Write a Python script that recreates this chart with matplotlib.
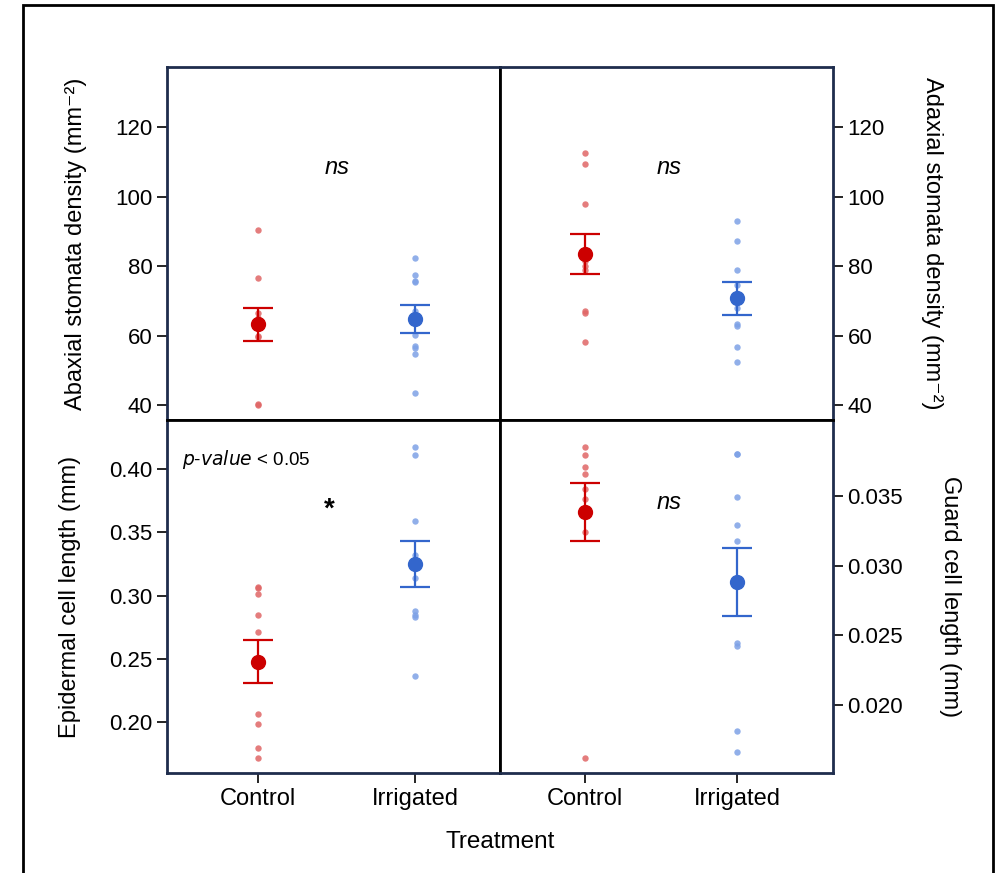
import matplotlib
matplotlib.use("Agg")
from matplotlib import pyplot as plt
from matplotlib.patches import Rectangle

plt.rcParams['font.family'] = ['Liberation Sans', 'DejaVu Sans']

groups = ["Control", "Irrigated"]

# abaxial stomata density (mm-2)
abaxialControl = [90.4, 76.5, 66.4, 65.0, 63.0, 60.0, 59.5, 40.2, 39.9]
abaxialIrrigated = [82.2, 77.4, 75.7, 75.4, 67.0, 65.0, 60.1, 57.1, 56.5, 54.7, 43.5]
abaxialMean = [63.2, 64.7]
abaxialSe = [4.75, 4.0]

# adaxial stomata density (mm-2)
adaxialControl = [112.6, 109.4, 97.8, 81.4, 80.0, 79.0, 67.1, 66.4, 58.2]
adaxialIrrigated = [93.0, 87.2, 78.8, 74.5, 67.8, 63.2, 62.7, 56.7, 52.3]
adaxialMean = [83.5, 70.7]
adaxialSe = [5.75, 4.65]

# epidermal cell length (mm)
epidermalControl = [0.3068, 0.3062, 0.3012, 0.2846, 0.2709, 0.2063, 0.1982, 0.1792, 0.1713]
epidermalIrrigated = [0.4174, 0.4108, 0.3591, 0.3320, 0.3141, 0.2878, 0.2846, 0.2830, 0.2364]
epidermalMean = [0.2477, 0.3249]
epidermalSe = [0.0170, 0.0182]

# guard cell length (mm)
guardControl = [0.03852, 0.03792, 0.03706, 0.03656, 0.03550, 0.03476, 0.03240, 0.01620]
guardIrrigated = [0.03803, 0.03800, 0.03493, 0.03290, 0.03179, 0.02448, 0.02426, 0.01812, 0.01663]
guardMean = [0.03385, 0.02885]
guardSe = [0.00206, 0.00245]

pointColors = ["#e06666", "#7ea1e6"]
meanColors = ["#cc0000", "#3366cc"]
navy = "#1f2d4d"


def drawPanel(ax, control, irrigated, means, ses):
    '''
    Draws the single observations and the mean +/- standard error for both treatments
    '''
    for i, values in enumerate([control, irrigated]):
        ax.plot([i + 1] * len(values), values, 'o', ms=4.6, color=pointColors[i],
                alpha=0.85, mec='none', zorder=2)
        ax.errorbar(i + 1, means[i], yerr=ses[i], fmt='o', ms=10, color=meanColors[i],
                    ecolor=meanColors[i], elinewidth=1.6, capsize=10.5, capthick=1.6, zorder=3)


fig = plt.figure(figsize=(10.05, 8.73), dpi=100)

# outer frame round the whole figure
fig.patches.append(Rectangle((0.0229, -0.05), 0.9651, 1.0443, transform=fig.transFigure,
                             fill=False, edgecolor='black', linewidth=2))

w, h = 0.3313, 0.4044
axTL = fig.add_axes([0.1662, 0.5189, w, h])
axTR = fig.add_axes([0.4975, 0.5189, w, h])
axBL = fig.add_axes([0.1662, 0.1145, w, h])
axBR = fig.add_axes([0.4975, 0.1145, w, h])

drawPanel(axTL, abaxialControl, abaxialIrrigated, abaxialMean, abaxialSe)
drawPanel(axTR, adaxialControl, adaxialIrrigated, adaxialMean, adaxialSe)
drawPanel(axBL, epidermalControl, epidermalIrrigated, epidermalMean, epidermalSe)
drawPanel(axBR, guardControl, guardIrrigated, guardMean, guardSe)

axTL.set_ylim(35.7, 137.3)
axTR.set_ylim(35.7, 137.3)
axBL.set_ylim(0.1597, 0.4387)
axBR.set_ylim(0.01512, 0.04045)
for ax in [axTL, axBL]:
    ax.set_xlim(0.42, 2.54)
for ax in [axTR, axBR]:
    ax.set_xlim(0.44, 2.63)

axTL.set_yticks([40, 60, 80, 100, 120])
axTR.set_yticks([40, 60, 80, 100, 120])
axBL.set_yticks([0.20, 0.25, 0.30, 0.35, 0.40])
axBL.set_yticklabels(["0.20", "0.25", "0.30", "0.35", "0.40"])
axBR.set_yticks([0.020, 0.025, 0.030, 0.035])
axBR.set_yticklabels(["0.020", "0.025", "0.030", "0.035"])

for ax in [axTL, axTR, axBL, axBR]:
    ax.set_xticks([1, 2])
    for s in ax.spines.values():
        s.set_color(navy)
        s.set_linewidth(2)
    ax.tick_params(axis='both', labelsize=16, length=7, width=1.2, color='black')

for ax in [axTL, axTR]:
    ax.set_xticklabels([])
for ax in [axTR, axBR]:
    ax.yaxis.tick_right()
    ax.yaxis.set_label_position('right')
    ax.spines['left'].set_color('black')
for ax in [axBL, axTL]:
    ax.spines['right'].set_color('black')
for ax in [axTL, axTR]:
    ax.spines['bottom'].set_color('black')
for ax in [axBL, axBR]:
    ax.spines['top'].set_color('black')
    ax.set_xticklabels(groups)
    ax.tick_params(axis='x', labelsize=17, pad=4)
axTL.tick_params(axis='x', length=0)

axTL.set_ylabel("Abaxial stomata density (mm\u207b\u00b2)", fontsize=17, labelpad=20)
axTR.set_ylabel("Adaxial stomata density (mm\u207b\u00b2)", fontsize=17, rotation=270, labelpad=42)
axBL.set_ylabel("Epidermal cell length (mm)", fontsize=17, labelpad=20)
axBR.set_ylabel("Guard cell length (mm)", fontsize=17, rotation=270, labelpad=42)

fig.text(0.4975, 0.035, "Treatment", fontsize=17.5, ha='center', va='center')

# significance labels
axTL.text(1.5, 108.5, "ns", style='italic', fontsize=17, ha='center', va='center')
axTR.text(1.55, 108.5, "ns", style='italic', fontsize=17, ha='center', va='center')
axBR.text(1.55, 0.0345, "ns", style='italic', fontsize=17, ha='center', va='center')
axBL.text(1.45, 0.368, "*", fontsize=20, fontweight='bold', ha='center', va='center')
axBL.text(0.045, 0.887, "$\\it{p}$-$\\it{value}$ < 0.05", transform=axBL.transAxes, fontsize=13.5,
          ha='left', va='center')

fig.savefig("out.png", dpi=100)
